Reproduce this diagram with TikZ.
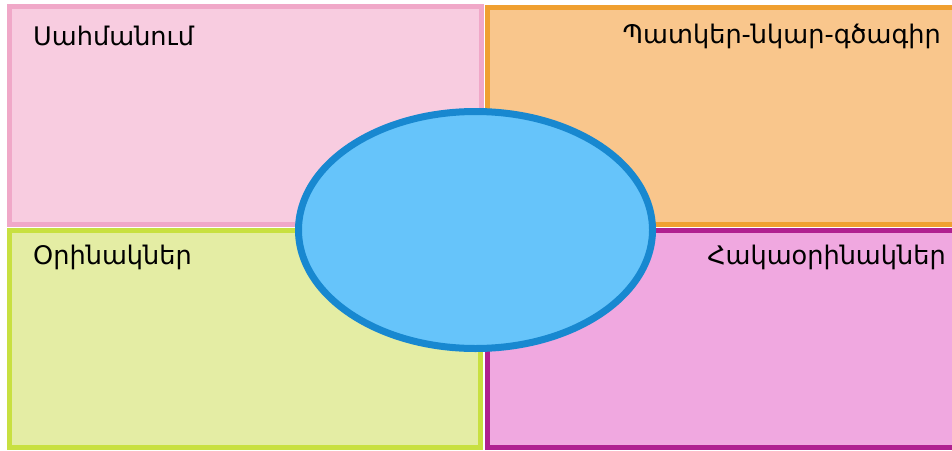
\documentclass[tikz,border=0pt]{standalone}
\usepackage{fontspec}
\usetikzlibrary{shapes.geometric}
\setmainfont{DejaVu Sans}
\definecolor{pinkfill}{HTML}{F8CCE0}
\definecolor{pinkline}{HTML}{F0A8C8}
\definecolor{orangefill}{HTML}{F9C68C}
\definecolor{orangeline}{HTML}{F0A030}
\definecolor{greenfill}{HTML}{E4EDA4}
\definecolor{greenline}{HTML}{C8E040}
\definecolor{magfill}{HTML}{F0A8E0}
\definecolor{magline}{HTML}{B02090}
\definecolor{bluefill}{HTML}{66C4FA}
\definecolor{blueline}{HTML}{1888D0}
\tikzset{
  panel/.style={line width=5pt},
  label/.style={font=\fontsize{25.6}{30}\selectfont, text=black, inner sep=0pt},
}
\begin{document}
\begin{tikzpicture}[x=1pt,y=-1pt]
\useasboundingbox (0,0) rectangle (952,450);
\fill[white] (0,0) rectangle (952,450);
\begin{scope}
\clip (0,0) rectangle (952,450);
\draw[panel, draw=pinkline, fill=pinkfill] (9.5,6.5) rectangle (481.5,224.5);
\draw[panel, draw=orangeline, fill=orangefill] (487.5,7.5) rectangle (962,224.5);
\draw[panel, draw=greenline, fill=greenfill] (9.5,230.5) rectangle (480.5,447.5);
\draw[panel, draw=magline, fill=magfill] (487.5,230.5) rectangle (962,447.5);
\node[ellipse, draw=blueline, fill=bluefill, line width=7pt, minimum width=354pt, minimum height=237pt, inner sep=0pt] (center) at (475.5,230) {};
\end{scope}
\node[label, anchor=west] (def) at (33,36) {Սահմանում};
\node[label, anchor=east] (pic) at (941,36) {Պատկեր-նկար-գծագիր};
\node[label, anchor=west] (ex) at (33,257) {Օրինակներ};
\node[label, anchor=east] (cex) at (946,257) {Հակաօրինակներ};
\end{tikzpicture}
\end{document}
